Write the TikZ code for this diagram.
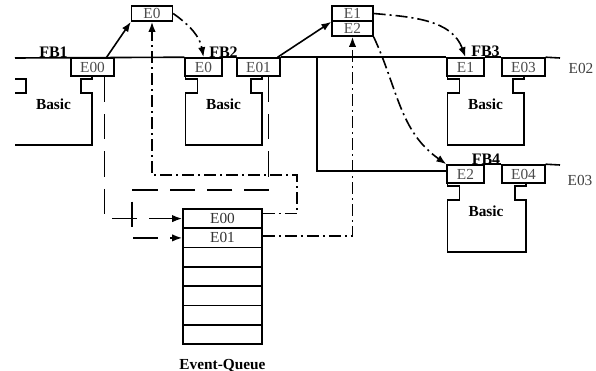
\documentclass[tikz,border=0pt]{standalone}
\usepackage{fontspec}
\setmainfont{Liberation Serif}
\usetikzlibrary{arrows.meta, calc, positioning}
\tikzset{
  wire/.style      = {line width=1.2pt, black},
  arr/.style       = {-{Latex[length=7.5pt,width=5.5pt]}},
  queuein/.style   = {line width=1.2pt, dash pattern=on 19pt off 9pt},
  dispatch/.style  = {line width=1.2pt, dash pattern=on 9pt off 3pt on 1.5pt off 3pt},
  evbox/.style     = {draw, line width=1.2pt, inner sep=0pt, minimum height=13.5pt,
                      font=\fontsize{11.5}{12}\selectfont, text=black!70},
  evin/.style      = {evbox, minimum width=27.5pt},
  evout/.style     = {evbox, minimum width=32pt},
  evtop/.style     = {evbox, minimum width=30.5pt, minimum height=11.25pt},
  qrow/.style      = {draw, line width=1.2pt, inner sep=0pt, minimum width=59.25pt,
                      minimum height=14.5pt, font=\fontsize{11.5}{12}\selectfont, text=black!80},
  fblbl/.style     = {anchor=south, inner sep=0.5pt, font=\fontsize{12}{12}\selectfont\bfseries},
  basic/.style     = {font=\fontsize{11.5}{12}\selectfont\bfseries},
  outlbl/.style    = {font=\fontsize{11.5}{12}\selectfont, text=black!75},
}
\begin{document}
\begin{tikzpicture}[x=0.75pt, y=-0.75pt]
  \useasboundingbox (0,0) rectangle (596,371);

  % event boxes of the function blocks
  \node[evout] (fb1out) at (92.5,67)  {E00};
  \node[evin]  (fb2in)  at (203.5,67) {E0};
  \node[evout] (fb2out) at (258.5,67) {E01};
  \node[evin]  (fb3in)  at (465.5,67) {E1};
  \node[evout] (fb3out) at (523.5,67) {E03};
  \node[evin]  (fb4in)  at (465.5,174) {E2};
  \node[evout] (fb4out) at (523.5,174) {E04};

  % dispatched events
  \node[evtop] (evE0) at (152,13.5)   {E0};
  \node[evtop] (evE1) at (352.5,13.5) {E1};
  \node[evtop] (evE2) at (352.5,28.5) {E2};

  % necks and bodies
  \draw[wire] (15,79) -- (26,79) -- (26,93) -- (15,93);
  \draw[wire] (15,145) -- (92,145) -- (92,93) -- (81,93) -- (81,79) -- (92,79) -- (92,76);
  \foreach \l/\r/\t in {185.5/262/58, 447.5/524/58, 447.5/526/165} {
    \draw[wire] (\l,\t+18) -- (\l,\t+21) -- (\l+12,\t+21) -- (\l+12,\t+35) -- (\l,\t+35)
      -- (\l,\t+87) -- (\r,\t+87) -- (\r,\t+35) -- (\r-11,\t+35) -- (\r-11,\t+21)
      -- (\r,\t+21) -- (\r,\t+18);
  }
  \foreach \n/\x/\t in {1/53.5/58, 2/223.5/58, 3/485.5/58, 4/486/165} {
    \node[fblbl] (lFB\n) at (\x,\t) {FB\n};
    \node[basic] (bas\n) at (\x,\t+46) {Basic};
  }

  % connections between the blocks
  \coordinate (fb1l) at (15,58);
  \coordinate (j) at (317,58);
  \coordinate (o2) at (560,58);
  \coordinate (o3) at (560,165);
  \draw[wire] (fb1l) -- (fb2in.north west);
  \draw[wire] (fb2in.north east) -- (fb2out.north west);
  \draw[wire] (fb2out.north east) -- (fb3in.north west);
  \draw[wire] (fb3in.north east) -- (fb3out.north west);
  \draw[wire] (fb4in.north east) -- (fb4out.north west);
  \draw[wire] (fb3out.north east) -- (o2);
  \draw[wire] (fb4out.north east) -- (o3);
  \draw[wire] (j) |- ($(fb4in.west)+(0,-3)$);
  \node[outlbl] (lE02) at (581,68)  {E02};
  \node[outlbl] (lE03) at (580,180) {E03};

  \draw[wire, arr] ($(fb1out.north east)+(-8,0)$) -- (evE0.south west);
  \draw[wire, arr] ($(fb2out.north east)+(-3,0)$) -- (evE1.south west);

  % event queue
  \foreach \i/\t in {1/E00, 2/E01, 3/{}, 4/{}, 5/{}, 6/{}, 7/{}} {
    \node[qrow] (q\i) at (222.5,{218.6+(\i-1)*19.3}) {\t};
  }
  \node[basic, below=7pt of q7] (qlbl) {Event-Queue};

  \coordinate (bend) at (132,190);
  \coordinate (d1) at (297,175);
  \draw[queuein, arr] ($(fb1out.south)+(12,0)$) |- (q1.west);
  \draw[queuein, arr] ($(fb2out.south)+(10,0)$) |- (bend) |- (q2.west);
  \draw[dispatch, arr] ($(q1.east)+(0,-5)$) -| (d1) -| (evE0.south);
  \draw[dispatch, arr] ($(q2.east)+(0,-2)$) -| (evE2.south);

  \draw[dispatch, arr] (evE0.east) to[out=-35, in=100] (fb2in.north);
  \draw[dispatch, arr] (evE1.east) to[out=-5, in=110] (fb3in.north);
  \draw[dispatch, arr] (evE2.south east) to[out=-65, in=145] (fb4in.north west);
\end{tikzpicture}
\end{document}
